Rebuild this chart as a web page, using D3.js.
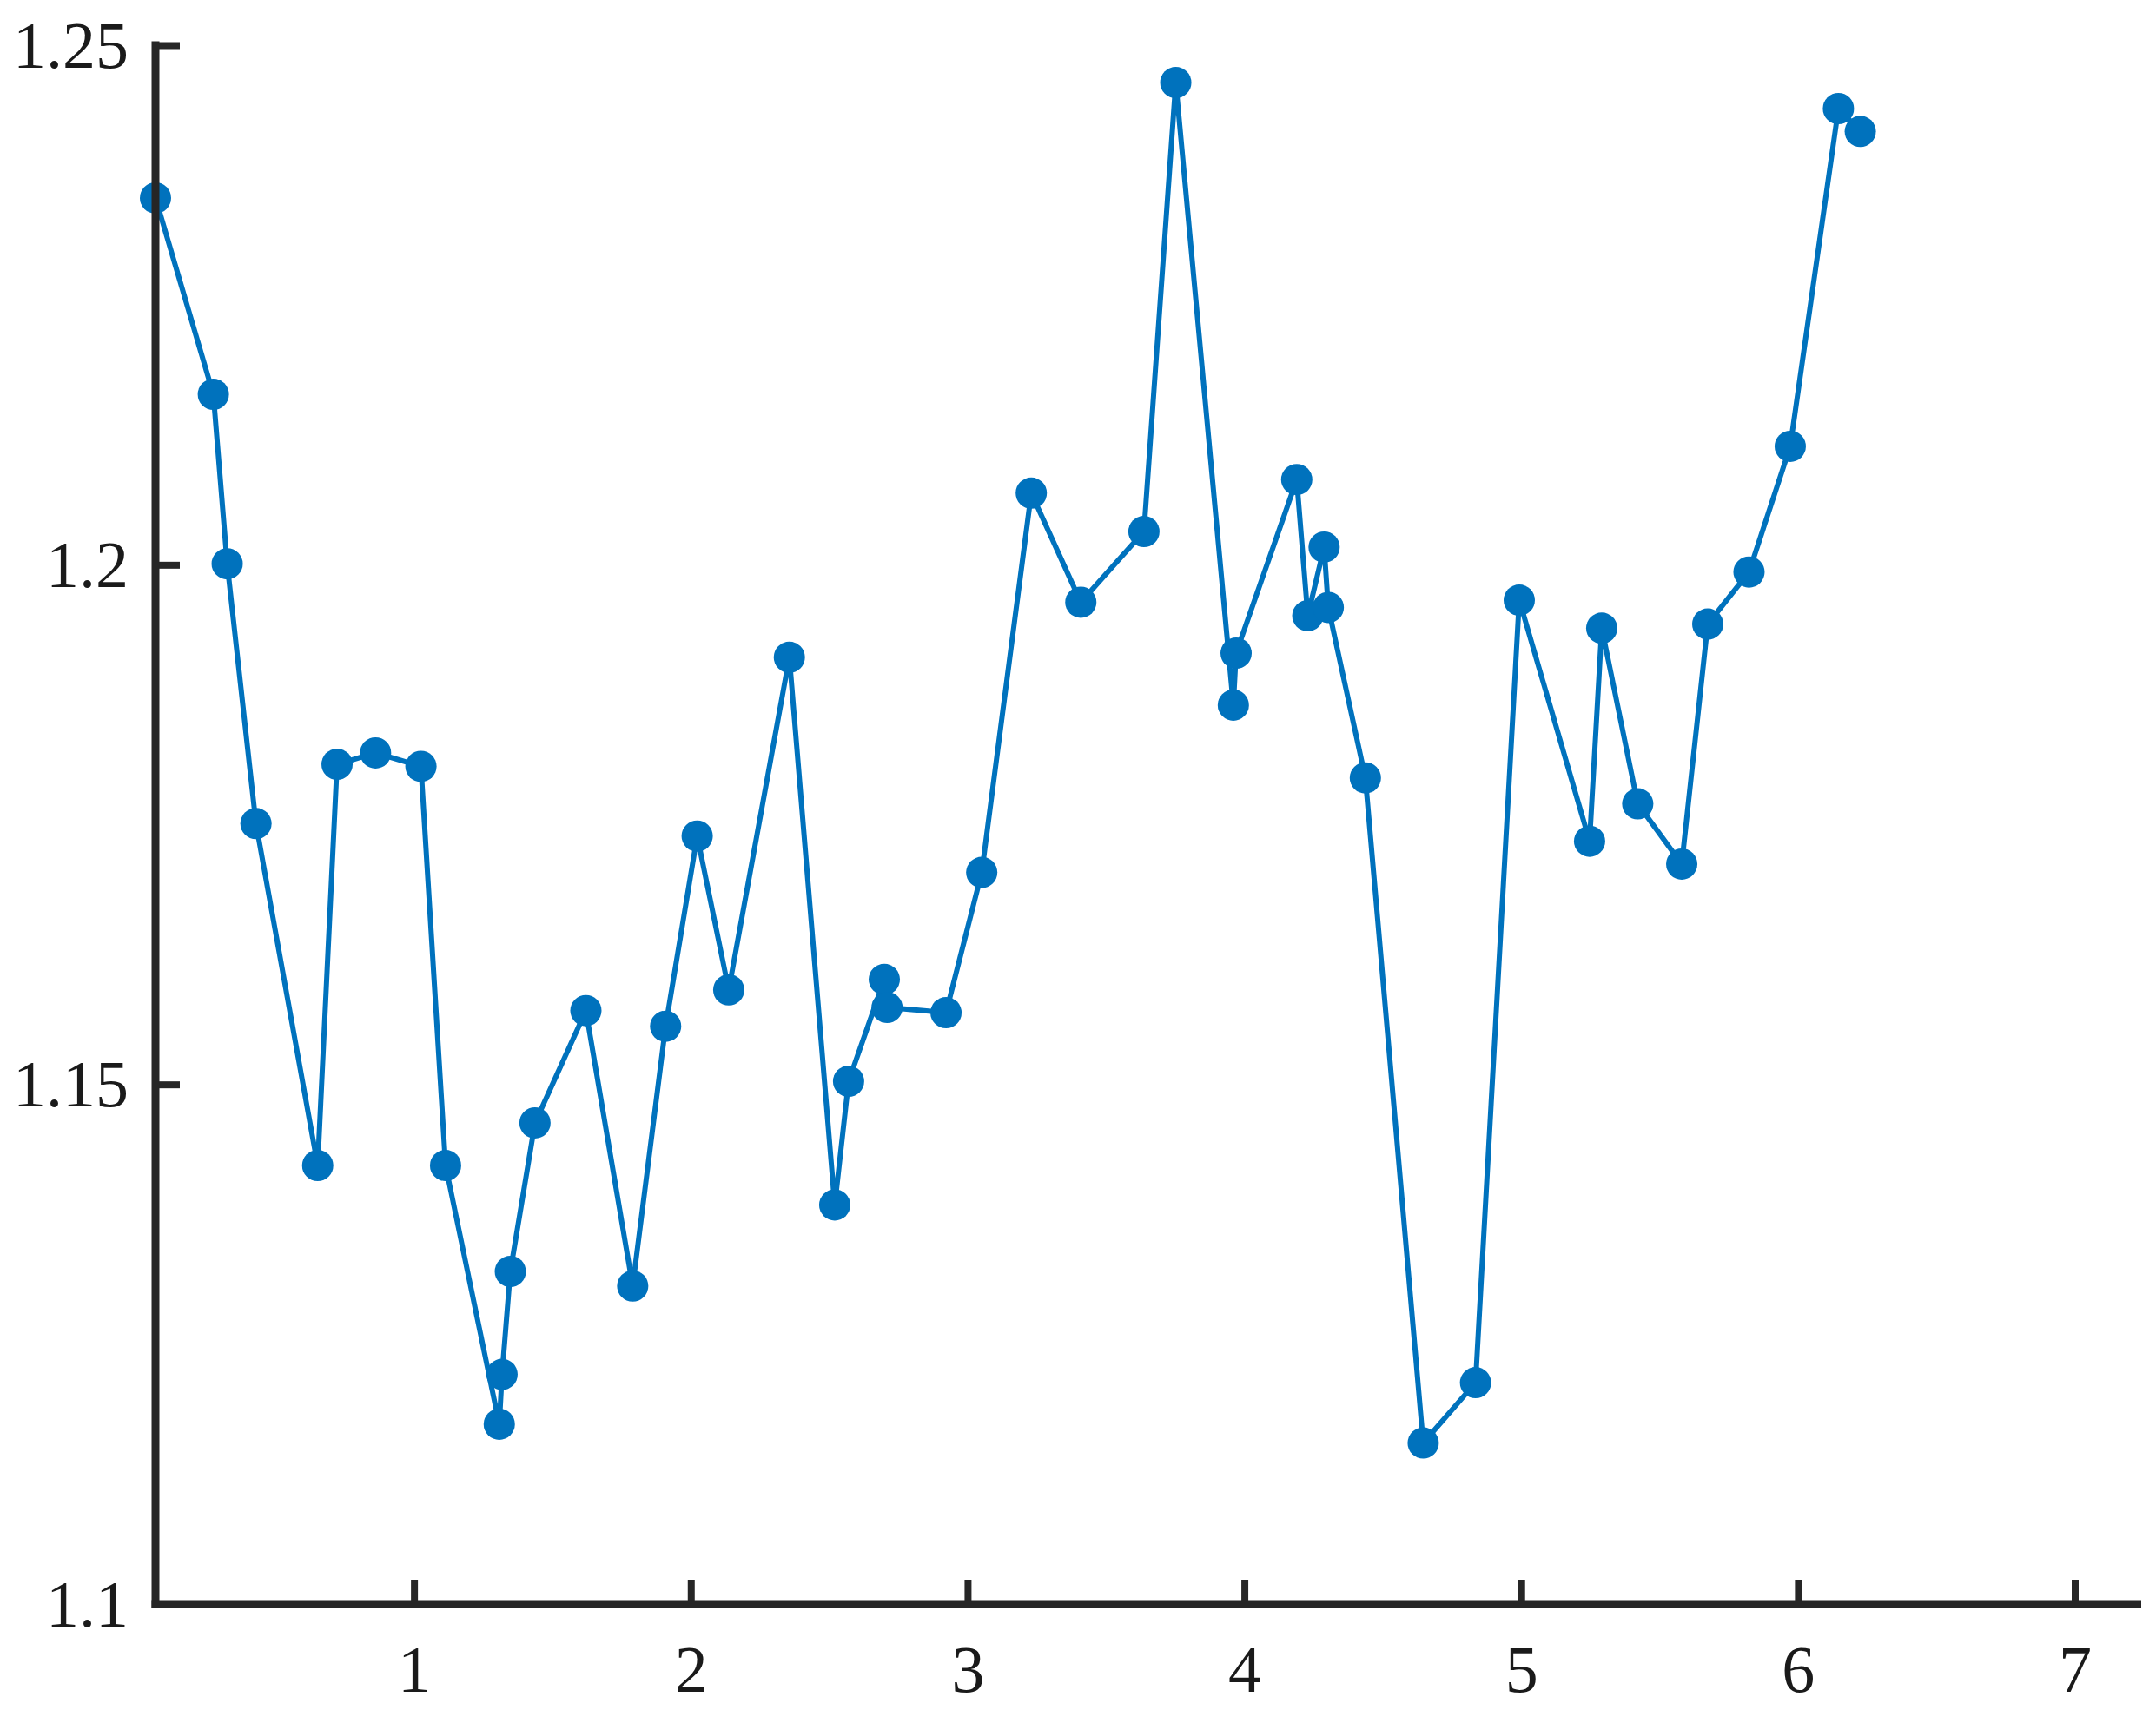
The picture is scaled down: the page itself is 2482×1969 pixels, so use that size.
<!DOCTYPE html>
<html>
<head>
<meta charset="utf-8">
<script src="https://cdn.jsdelivr.net/npm/d3@7"></script>
<style>
  html, body { margin: 0; padding: 0; background: #ffffff; }
  svg { display: block; }
</style>
</head>
<body>
<script>
// ---- data ----
const xValues = [0.066, 0.275, 0.325, 0.429, 0.652, 0.722, 0.861, 1.025, 1.114, 1.308,
  1.318, 1.348, 1.437, 1.621, 1.790, 1.909, 2.023, 2.137, 2.356, 2.520,
  2.570, 2.699, 2.709, 2.922, 3.051, 3.230, 3.409, 3.637, 3.752, 3.960,
  3.970, 4.189, 4.229, 4.288, 4.303, 4.437, 4.646, 4.835, 4.993, 5.247,
  5.291, 5.421, 5.580, 5.674, 5.823, 5.972, 6.146, 6.225];
const yValues = [1.2353, 1.2164, 1.2001, 1.1751, 1.1422, 1.1808, 1.1819, 1.1806, 1.1422, 1.1173,
  1.1221, 1.1320, 1.1463, 1.1571, 1.1306, 1.1556, 1.1739, 1.1591, 1.1911, 1.1384,
  1.1503, 1.1601, 1.1574, 1.1569, 1.1704, 1.2069, 1.1964, 1.2032, 1.2464, 1.1865,
  1.1915, 1.2082, 1.1951, 1.2017, 1.1959, 1.1795, 1.1155, 1.1213, 1.1966, 1.1734,
  1.1939, 1.1770, 1.1712, 1.1943, 1.1993, 1.2114, 1.2439, 1.2417];
const xTicks = [1, 2, 3, 4, 5, 6, 7];
const yTicks = [1.1, 1.15, 1.2, 1.25];
const yTickLabels = ["1.1", "1.15", "1.2", "1.25"];
const xDomain = [0.066, 7.24];
const yDomain = [1.1, 1.25];

const W = 2482, H = 1969;
const axisColor = "#262626";
const lineColor = "#0072BD";

const svg = d3.select("body").append("svg")
  .attr("width", W).attr("height", H);

const x = d3.scaleLinear().domain(xDomain).range([179, 2465]);
const y = d3.scaleLinear().domain(yDomain).range([1847, 52]);

const points = xValues.map((v, i) => ({ x: v, y: yValues[i] }));

// line
svg.append("path")
  .datum(points)
  .attr("fill", "none")
  .attr("stroke", lineColor)
  .attr("stroke-width", 6)
  .attr("stroke-linejoin", "round")
  .attr("d", d3.line().x(d => x(d.x)).y(d => y(d.y)));

// markers
svg.append("g").selectAll("circle")
  .data(points)
  .join("circle")
  .attr("cx", d => x(d.x))
  .attr("cy", d => y(d.y))
  .attr("r", 18)
  .attr("fill", lineColor);

// axes (MATLAB style: inward ticks, thick lines)
const fontFamily = "'Liberation Serif', 'Times New Roman', serif";
const tickLen = 28;

const xAxis = d3.axisBottom(x)
  .tickValues(xTicks)
  .tickSize(-tickLen)
  .tickPadding(0)
  .tickFormat(d3.format("d"));
const gx = svg.append("g").attr("transform", `translate(0,${y(yDomain[0])})`).call(xAxis);
gx.select(".domain").remove();
gx.selectAll(".tick line").attr("stroke", axisColor).attr("stroke-width", 8);
gx.selectAll(".tick text")
  .attr("fill", "#1a1a1a")
  .attr("font-family", fontFamily)
  .attr("font-size", 76)
  .attr("dy", null)
  .attr("y", 101);

const yAxis = d3.axisLeft(y)
  .tickValues(yTicks)
  .tickSize(-tickLen)
  .tickPadding(0)
  .tickFormat((d, i) => yTickLabels[i]);
const gy = svg.append("g").attr("transform", `translate(${x(xDomain[0])},0)`).call(yAxis);
gy.select(".domain").remove();
gy.selectAll(".tick line").attr("stroke", axisColor).attr("stroke-width", 8);
gy.selectAll(".tick text")
  .attr("fill", "#1a1a1a")
  .attr("font-family", fontFamily)
  .attr("font-size", 76)
  .attr("dy", null)
  .attr("x", -31)
  .attr("y", 25);

// axis lines
svg.append("line")
  .attr("x1", x(xDomain[0])).attr("x2", x(xDomain[0]))
  .attr("y1", y(yDomain[1]) - 4.5).attr("y2", y(yDomain[0]) + 4.5)
  .attr("stroke", axisColor).attr("stroke-width", 9);
svg.append("line")
  .attr("x1", x(xDomain[0]) - 4.5).attr("x2", x(xDomain[1]))
  .attr("y1", y(yDomain[0])).attr("y2", y(yDomain[0]))
  .attr("stroke", axisColor).attr("stroke-width", 9);
</script>
</body>
</html>
